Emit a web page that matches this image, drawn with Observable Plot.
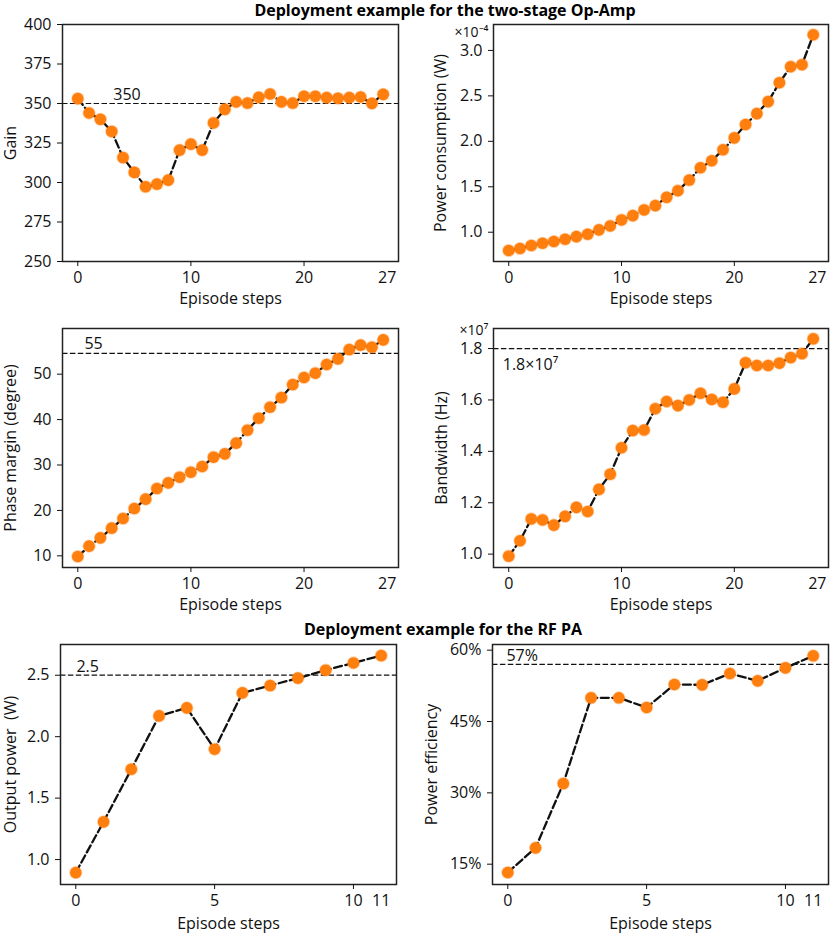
<!DOCTYPE html>
<html><head><meta charset="utf-8">
<script src="https://cdn.jsdelivr.net/npm/d3@7"></script>
<script src="https://cdn.jsdelivr.net/npm/@observablehq/plot@0.6"></script>
<style>
body{margin:0;background:#fff;}
#wrap{position:relative;width:831px;height:934px;font-family:"Open Sans",sans-serif;overflow:hidden;}
.panel{position:absolute;}
.title{position:absolute;font-weight:bold;font-size:16px;white-space:nowrap;transform:translate(-50%,-50%);color:#000;line-height:1;}
</style></head><body><div id="wrap"></div>
<script>
// ---- data ----
const stepsOpAmp = [0,1,2,3,4,5,6,7,8,9,10,11,12,13,14,15,16,17,18,19,20,21,22,23,24,25,26,27];
const gain = [353.1,344.0,340.0,332.3,315.8,306.4,297.3,299.0,301.5,320.5,324.3,320.5,337.7,346.3,351.0,350.3,353.9,356.0,351.0,350.3,354.6,354.6,353.7,353.3,353.7,354.1,350.1,355.8];
const powerE4 = [0.799,0.821,0.854,0.879,0.898,0.923,0.952,0.978,1.026,1.069,1.135,1.183,1.245,1.293,1.384,1.457,1.574,1.709,1.786,1.907,2.038,2.185,2.305,2.437,2.645,2.821,2.843,3.172]; // ×10^-4 W
const phaseMargin = [9.85,12.13,13.96,16.09,18.22,20.42,22.48,24.83,26.07,27.32,28.42,29.67,31.72,32.46,34.81,37.67,40.31,42.73,44.86,47.72,49.27,50.22,52.13,53.38,55.43,56.39,55.94,57.56];
const bandwidthE7 = [0.992,1.052,1.137,1.133,1.113,1.147,1.182,1.166,1.252,1.311,1.414,1.481,1.483,1.566,1.594,1.578,1.600,1.626,1.602,1.591,1.643,1.745,1.734,1.734,1.743,1.765,1.780,1.838]; // ×10^7 Hz
const stepsPA = [0,1,2,3,4,5,6,7,8,9,10,11];
const outputPower = [0.894,1.307,1.735,2.169,2.234,1.898,2.356,2.416,2.476,2.541,2.600,2.660];
const efficiency = [13.25,18.44,31.96,49.98,49.98,47.94,52.78,52.71,55.09,53.55,56.28,58.81]; // %

const titles = ["Deployment example for the two-stage Op-Amp", "Deployment example for the RF PA"];
const xLabel = "Episode steps";
const opAmpXTicks = [0,10,20], opAmpLastTick = 27;
const paXTicks = [0,5,10], paLastTick = 11;

const targets = {gain:350, phase:54.6, bw:1.8, out:2.5, eff:57};
const targetLabels = {gain:"350", phase:"55", bw:"1.8×10⁷", out:"2.5", eff:"57%"};

// ---- drawing ----
const wrap = document.getElementById("wrap");
const FONT = '"Open Sans", sans-serif';

function panel(o){
  const data = o.xs.map((x,i)=>({x, y:o.ys[i]}));
  const marks = [];
  if (o.target != null) marks.push(Plot.ruleY([o.target], {stroke:"#111", strokeWidth:1.2, strokeDasharray:"5.5,2.4"}));
  marks.push(
    Plot.line(data, {x:"x", y:"y", stroke:"#111", strokeWidth:2.3, strokeDasharray:"8,3.5"}),
    Plot.dot(data, {x:"x", y:"y", r:5.8, fill:"#ff7f0e", stroke:"#ff7f0e", strokeOpacity:0.35, strokeWidth:1.6}),
    Plot.frame({stroke:"#222", strokeWidth:1.5}),
    Plot.axisX({ticks:o.xTicks, tickSize:5, tickPadding:5, tickFormat:d=>String(d), label:xLabel, labelAnchor:"center", labelArrow:"none", labelOffset:o.xLabelOffset}),
    Plot.text([o.lastTick], {x:d=>d, text:d=>String(d), frameAnchor:"bottom", lineAnchor:"top", dy:10, dx:o.lastDx}),
    Plot.axisY({ticks:o.yTicks, tickSize:5, tickPadding:6, tickFormat:o.yFmt, label:o.yLabel, labelAnchor:"center", labelArrow:"none", labelOffset:o.yLabelOffset})
  );
  if (o.ann) marks.push(Plot.text([o.ann], {x:d=>d.x, y:()=>o.target, text:d=>d.text, textAnchor:o.ann.anchor || "middle", lineAnchor:o.ann.line, dy:o.ann.dy}));
  if (o.exp) marks.push(Plot.text([o.exp], {text:d=>d, frameAnchor:"top-left", textAnchor:"end", lineAnchor:"bottom", dx:-5, dy:o.expDy, fontSize:14}));
  const svg = Plot.plot({
    width:o.width, height:o.height,
    marginLeft:o.mL, marginRight:o.mR, marginTop:o.mT, marginBottom:o.mB,
    x:{domain:o.xDomain},
    y:{domain:o.yDomain},
    style:{fontFamily:FONT, fontSize:"16px", color:"#111", background:"transparent", overflow:"visible"},
    marks
  });
  svg.classList.add("panel");
  svg.style.left = o.left+"px";
  svg.style.top = o.top+"px";
  wrap.appendChild(svg);
}

const opDom = [-1.35, 28.35], paDom = [-0.55, 11.55];

panel({left:0, top:0, width:410, height:300, mL:62, mR:12, mT:24, mB:39,
  xs:stepsOpAmp, ys:gain, xDomain:opDom, yDomain:[250,400],
  xTicks:opAmpXTicks, lastTick:opAmpLastTick, lastDx:4, xLabelOffset:42,
  yTicks:[250,275,300,325,350,375,400], yFmt:d=>String(d), yLabel:"Gain", yLabelOffset:58,
  target:targets.gain, ann:{x:4.35, text:targetLabels.gain, line:"bottom", dy:-4}});

panel({left:410, top:0, width:421, height:300, mL:83, mR:3, mT:24, mB:39,
  xs:stepsOpAmp, ys:powerE4, xDomain:opDom, yDomain:[0.678,3.285],
  xTicks:opAmpXTicks, lastTick:opAmpLastTick, lastDx:4, xLabelOffset:42,
  yTicks:[1.0,1.5,2.0,2.5,3.0], yFmt:d3.format(".1f"), yLabel:"Power consumption (W)", yLabelOffset:59,
  target:null, ann:null, exp:"×10⁻⁴", expDy:12});

panel({left:0, top:300, width:410, height:320, mL:62, mR:12, mT:28, mB:53,
  xs:stepsOpAmp, ys:phaseMargin, xDomain:opDom, yDomain:[7.43,60.06],
  xTicks:opAmpXTicks, lastTick:opAmpLastTick, lastDx:4, xLabelOffset:42,
  yTicks:[10,20,30,40,50], yFmt:d=>String(d), yLabel:"Phase margin (degree)", yLabelOffset:58,
  target:targets.phase, ann:{x:1.4, text:targetLabels.phase, line:"bottom", dy:-4}});

panel({left:410, top:300, width:421, height:320, mL:83, mR:3, mT:28, mB:53,
  xs:stepsOpAmp, ys:bandwidthE7, xDomain:opDom, yDomain:[0.948,1.878],
  xTicks:opAmpXTicks, lastTick:opAmpLastTick, lastDx:4, xLabelOffset:42,
  yTicks:[1.0,1.2,1.4,1.6,1.8], yFmt:d3.format(".1f"), yLabel:"Bandwidth (Hz)", yLabelOffset:58,
  target:targets.bw, ann:{x:-0.53, text:targetLabels.bw, anchor:"start", line:"top", dy:10}, exp:"×10⁷", expDy:6});

panel({left:0, top:620, width:410, height:314, mL:60, mR:14, mT:24, mB:50,
  xs:stepsPA, ys:outputPower, xDomain:paDom, yDomain:[0.797,2.75],
  xTicks:paXTicks, lastTick:paLastTick, lastDx:0, xLabelOffset:44,
  yTicks:[1.0,1.5,2.0,2.5], yFmt:d3.format(".1f"), yLabel:"Output power  (W)", yLabelOffset:56,
  target:targets.out, ann:{x:0.43, text:targetLabels.out, line:"bottom", dy:-3}});

panel({left:410, top:620, width:421, height:314, mL:82, mR:3, mT:24, mB:50,
  xs:stepsPA, ys:efficiency, xDomain:paDom, yDomain:[10.73,61.19],
  xTicks:paXTicks, lastTick:paLastTick, lastDx:0, xLabelOffset:44,
  yTicks:[15,30,45,60], yFmt:d=>d+"%", yLabel:"Power efficiency", yLabelOffset:67,
  target:targets.eff, ann:{x:0.52, text:targetLabels.eff, line:"bottom", dy:-3}});

// titles
[[titles[0],445,10],[titles[1],443,629]].forEach(([t,x,y])=>{
  const d=document.createElement("div"); d.className="title"; d.textContent=t;
  d.style.left=x+"px"; d.style.top=y+"px"; wrap.appendChild(d);
});
</script></body></html>
